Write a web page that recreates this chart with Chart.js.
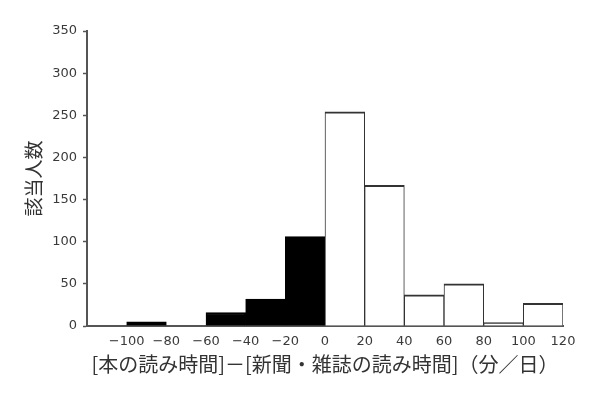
<!DOCTYPE html>
<html>
<head>
<meta charset="utf-8">
<script src="https://cdn.jsdelivr.net/npm/chart.js@4"></script>
<style>
  html, body { margin: 0; padding: 0; background: #fff; }
  #wrap { width: 600px; height: 400px; }
</style>
</head>
<body>
<div id="wrap"><canvas id="hist-graph" width="600" height="400"></canvas></div>
<script>
// histogram bins (left edge of each 20-minute bin) and counts
const binStarts = [-120, -100, -80, -60, -40, -20, 0, 20, 40, 60, 80, 100];
const counts = [0, 5, 0, 16, 32, 106, 254, 167, 37, 50, 4, 27];
const binWidth = 20;

const xTickValues = [-100, -80, -60, -40, -20, 0, 20, 40, 60, 80, 100, 120];
const yTickValues = [0, 50, 100, 150, 200, 250, 300, 350];

const xTitle = "[本の読み時間]－[新聞・雑誌の読み時間]（分／日）";
const yTitle = "該当人数";

const axisColor = "#555";
const textColor = "#3a3a3a";

// negative bins drawn black, the rest white with outline
const points = binStarts.map((s, i) => ({ x: s + binWidth / 2, y: counts[i] }));
const fills = binStarts.map(s => s < 0 ? "#000" : "#fff");
const borders = binStarts.map(s => s < 0 ? "#000" : "#333");

new Chart(document.getElementById("hist-graph"), {
  type: "bar",
  data: {
    datasets: [{
      label: yTitle,
      data: points,
      backgroundColor: fills,
      borderColor: borders,
      // sides are thin so two neighbouring bars share one line
      borderWidth: { top: 2, left: 1, right: 1, bottom: 0 },
      borderSkipped: false,
      barPercentage: 1,
      categoryPercentage: 1,
      grouped: false
    }]
  },
  options: {
    responsive: false,
    animation: false,
    layout: { padding: { top: 31, right: 37, left: 0, bottom: 0 } },
    plugins: {
      legend: { display: false },
      tooltip: { enabled: false }
    },
    scales: {
      x: {
        type: "linear",
        min: -120,
        max: 120,
        offset: false,
        afterBuildTicks: (scale) => { scale.ticks = xTickValues.map(v => ({ value: v })); },
        afterFit: (scale) => { scale.height = 74; },
        grid: { display: true, drawOnChartArea: false, drawTicks: false, offset: false },
        border: { display: true, color: axisColor, width: 2 },
        ticks: {
          autoSkip: false,
          maxRotation: 0,
          padding: 8,
          color: textColor,
          font: { family: "DejaVu Sans", size: 13 },
          callback: (v) => String(v).replace("-", "\u2212")
        },
        title: {
          display: true,
          text: xTitle,
          color: "#333",
          font: { family: "Noto Sans CJK JP", size: 20 },
          padding: { top: 0, bottom: 24 }
        }
      },
      y: {
        min: 0,
        max: 350,
        afterBuildTicks: (scale) => { scale.ticks = yTickValues.map(v => ({ value: v })); },
        afterFit: (scale) => { scale.width = 87; },
        grid: { display: true, drawOnChartArea: false, drawTicks: true, tickLength: 4, color: axisColor, tickWidth: 1.5 },
        border: { display: true, color: axisColor, width: 2 },
        ticks: {
          padding: 6,
          color: textColor,
          font: { family: "DejaVu Sans", size: 13 }
        },
        title: {
          display: true,
          text: yTitle,
          color: "#333",
          font: { family: "Noto Sans CJK JP", size: 19 },
          padding: { top: 22, bottom: 0 }
        }
      }
    }
  }
});
</script>
</body>
</html>
